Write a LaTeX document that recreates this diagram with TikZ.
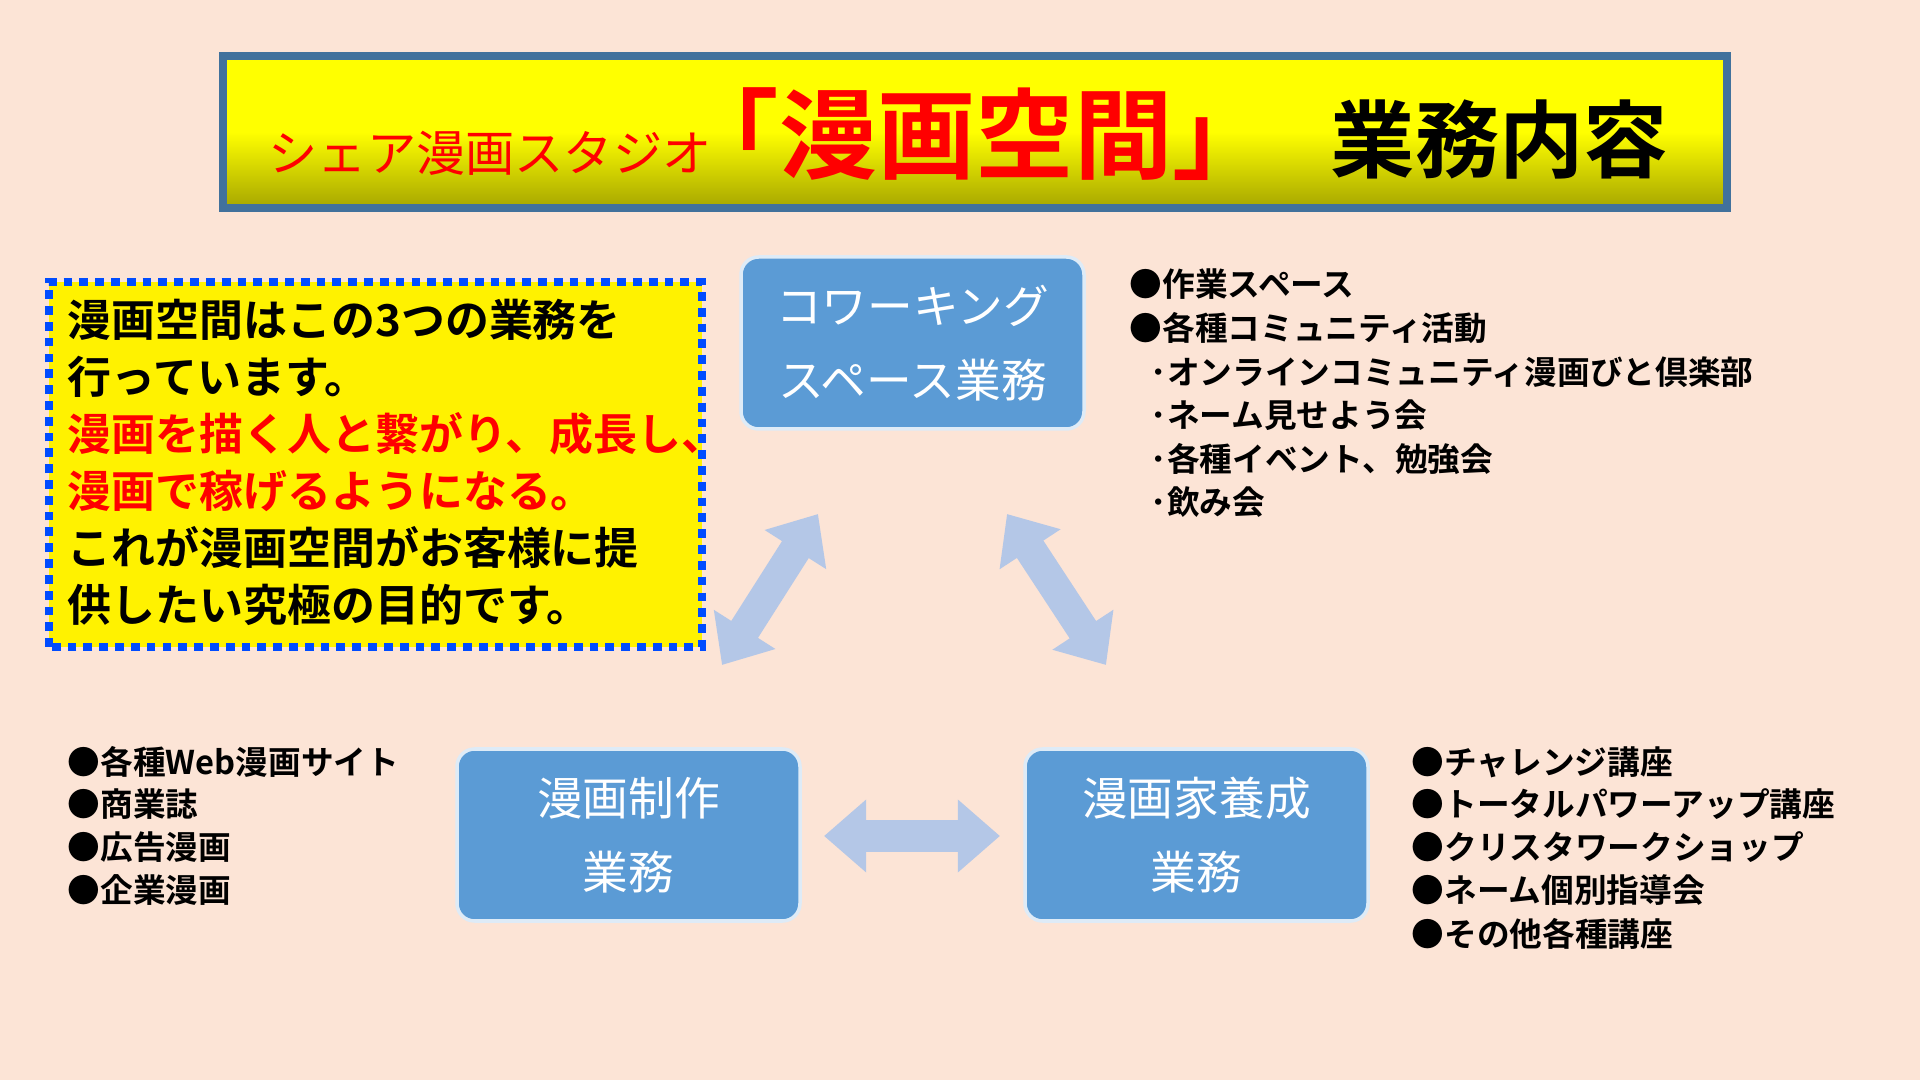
\documentclass[tikz,border=0pt]{standalone}
\usepackage{fontspec}
\newfontfamily\jp{Noto Sans CJK JP}[BoldFont={Noto Sans CJK JP Bold}]
\usetikzlibrary{arrows.meta}
\definecolor{bg}{HTML}{FCE4D6}
\definecolor{boxblue}{HTML}{5B9BD5}
\definecolor{arr}{HTML}{B4C7E7}
\definecolor{tborder}{HTML}{41719C}
\definecolor{olive}{HTML}{A6A600}
\tikzset{
  bluebox/.style={draw=white!80!boxblue,line width=1pt,fill=boxblue,rounded corners=5pt,minimum width=3.43cm,minimum height=1.72cm,text=white,align=center,font=\jp\fontsize{13pt}{21pt}\selectfont},
  dbl/.style={arr,line width=9pt,{Triangle[length=12pt,width=20pt]}-{Triangle[length=12pt,width=20pt]}},
  lst/.style={anchor=west,inner sep=0pt,font=\jp\bfseries\fontsize{9.3pt}{12pt}\selectfont},
  lbl/.style={anchor=west,inner sep=0pt,font=\jp\bfseries\fontsize{12.5pt}{15pt}\selectfont}
}
\begin{document}
\begin{tikzpicture}
\fill[bg] (0,0) rectangle (19.2,10.8);
\useasboundingbox (0,0) rectangle (19.2,10.8);
% title
\shade[top color=yellow,bottom color=olive,middle color=yellow,shading angle=0] (2.23,8.72) rectangle (17.27,10.24);
\draw[tborder,line width=2.5pt] (2.23,8.72) rectangle (17.27,10.24);
\node[anchor=base west,inner sep=0pt,text=red] (tl) at (2.68,9.08) {\jp\fontsize{14pt}{14pt}\selectfont シェア漫画スタジオ};
\node[anchor=base west,inner sep=0pt,text=red] (tm) at (6.80,9.08) {\jp\bfseries\fontsize{28pt}{28pt}\selectfont 「漫画空間」};
\node[anchor=base west,inner sep=0pt] (tr) at (13.3,9.08) {\jp\bfseries\fontsize{24pt}{24pt}\selectfont 業務内容};
% left box
\draw[blue!70!cyan,fill=yellow,line width=2.5pt,dotted] (0.49,4.33) rectangle (7.02,7.98);
\node[lbl] (l1) at (0.67,7.60) {漫画空間はこの3つの業務を};
\node[lbl] (l2) at (0.67,7.03) {行っています。};
\node[lbl,text=red] (l3) at (0.67,6.46) {漫画を描く人と繋がり、成長し、};
\node[lbl,text=red] (l4) at (0.67,5.89) {漫画で稼げるようになる。};
\node[lbl] (l5) at (0.67,5.32) {これが漫画空間がお客様に提};
\node[lbl] (l6) at (0.67,4.75) {供したい究極の目的です。};
% boxes
\node[bluebox] (top) at (9.125,7.37) {コワーキング\\スペース業務};
\node[bluebox] (bl) at (6.285,2.45) {漫画制作\\業務};
\node[bluebox] (br) at (11.965,2.45) {漫画家養成\\業務};
% arrows
\coordinate (a1) at (8.18,5.66); \coordinate (a2) at (7.22,4.15);
\coordinate (b1) at (10.07,5.66); \coordinate (b2) at (11.06,4.15);
\coordinate (c1) at (8.24,2.44); \coordinate (c2) at (10.00,2.44);
\draw[dbl] (a1) -- (a2);
\draw[dbl] (b1) -- (b2);
\draw[dbl] (c1) -- (c2);
% lists
\node[lst] (t1) at (11.29,7.96) {●作業スペース};
\node[lst] (t2) at (11.29,7.52) {●各種コミュニティ活動};
\node[lst] (t3) at (11.50,7.08) {･オンラインコミュニティ漫画びと倶楽部};
\node[lst] (t4) at (11.50,6.65) {･ネーム見せよう会};
\node[lst] (t5) at (11.50,6.21) {･各種イベント、勉強会};
\node[lst] (t6) at (11.50,5.78) {･飲み会};
\node[lst] (m1) at (0.67,3.18) {●各種Web漫画サイト};
\node[lst] (m2) at (0.67,2.76) {●商業誌};
\node[lst] (m3) at (0.67,2.33) {●広告漫画};
\node[lst] (m4) at (0.67,1.90) {●企業漫画};
\node[lst] (r1) at (14.11,3.18) {●チャレンジ講座};
\node[lst] (r2) at (14.11,2.76) {●トータルパワーアップ講座};
\node[lst] (r3) at (14.11,2.33) {●クリスタワークショップ};
\node[lst] (r4) at (14.11,1.90) {●ネーム個別指導会};
\node[lst] (r5) at (14.11,1.46) {●その他各種講座};
\end{tikzpicture}
\end{document}
